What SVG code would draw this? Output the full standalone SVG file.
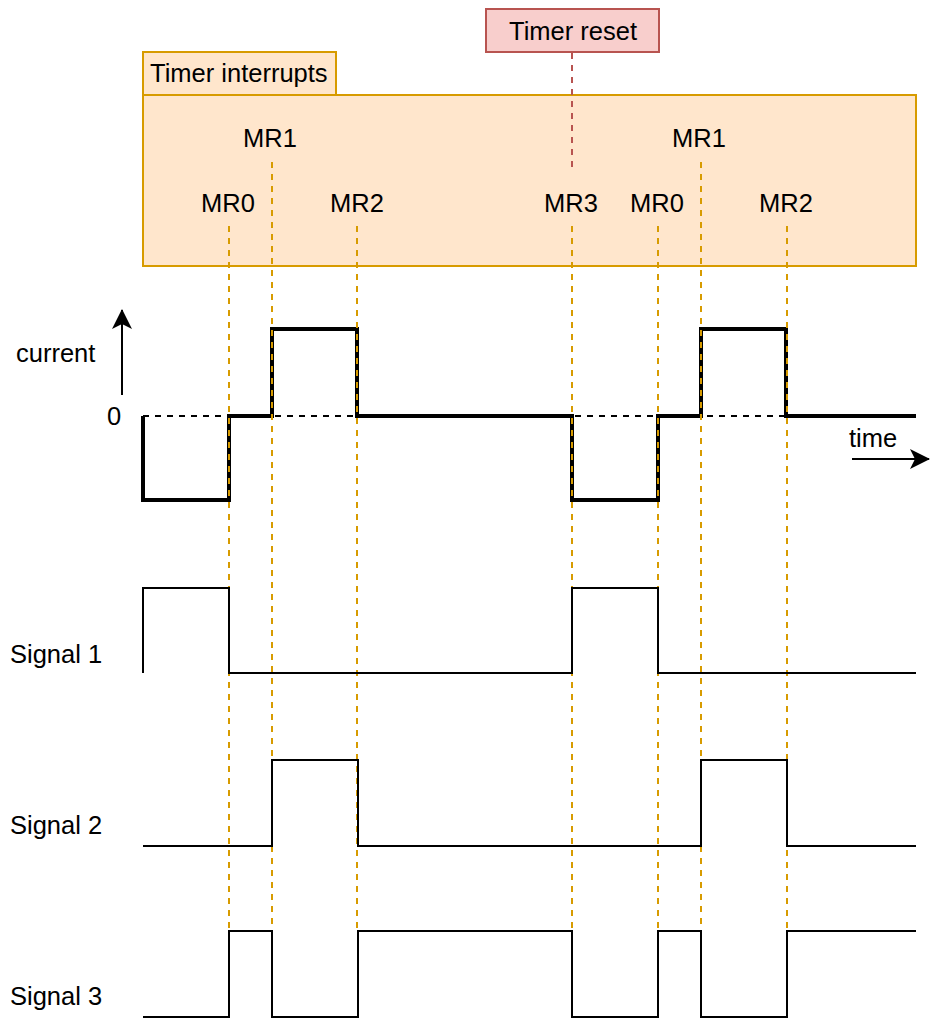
<svg xmlns="http://www.w3.org/2000/svg" width="930" height="1019" viewBox="0 0 930 1019">
<style>
text{font-family:"Liberation Sans",Arial,Helvetica,sans-serif;font-size:25.5px;fill:#000}
.c{text-anchor:middle}
.od{stroke:#d79b00;stroke-width:2;stroke-dasharray:6 6;fill:none}
.rd{stroke:#b85450;stroke-width:2;stroke-dasharray:6 6;fill:none}
.wave{fill:none;stroke:#000;stroke-width:4;stroke-linejoin:miter}
.sig{fill:none;stroke:#000;stroke-width:2;stroke-linejoin:miter}
.axis{stroke:#000;stroke-width:2;fill:none}
</style>
<defs>
<marker id="ah2" viewBox="0 0 20 20" refX="19" refY="10" markerWidth="20" markerHeight="20" markerUnits="userSpaceOnUse" orient="auto">
<path d="M0,0 L20,10 L0,20 L5,10 Z" fill="#000"/>
</marker>
</defs>
<rect width="930" height="1019" fill="#fff"/>

<g id="timer-interrupts">
<rect x="143" y="95" width="773" height="171" fill="#ffe6cc" stroke="#d79b00" stroke-width="2"/>
<rect x="143" y="52" width="193" height="43" fill="#ffe6cc" stroke="#d79b00" stroke-width="2"/>
<text x="150" y="82">Timer interrupts</text>
</g>

<g id="timer-reset">
<rect x="486" y="9" width="173" height="43" fill="#f8cecc" stroke="#b85450" stroke-width="2"/>
<text class="c" x="573" y="40">Timer reset</text>
</g>

<g id="mr-labels">
<text class="c" x="228" y="212">MR0</text>
<text class="c" x="270" y="147">MR1</text>
<text class="c" x="357" y="212">MR2</text>
<text class="c" x="571" y="212">MR3</text>
<text class="c" x="657" y="212">MR0</text>
<text class="c" x="699" y="147">MR1</text>
<text class="c" x="786" y="212">MR2</text>
</g>

<g id="axis-labels">
<text x="16" y="362">current</text>
<text x="107" y="425">0</text>
<text x="849" y="447">time</text>
</g>

<g id="zero-line">
<line x1="143" y1="416" x2="916" y2="416" stroke="#000" stroke-width="2" stroke-dasharray="6 6"/>
</g>

<g id="current-waveform">
<path class="wave" d="M143,416 V500 H229 V416 H272 V329 H357 V416 H572 V500 H658 V416 H701 V329 H786 V416 H916"/>
</g>

<g id="connectors">
<line class="rd" x1="572" y1="53" x2="572" y2="173"/>
<line class="od" x1="229" y1="226" x2="229" y2="931"/>
<line class="od" x1="272" y1="162" x2="272" y2="931"/>
<line class="od" x1="357" y1="226" x2="357" y2="931"/>
<line class="od" x1="572" y1="226" x2="572" y2="931"/>
<line class="od" x1="658" y1="226" x2="658" y2="931"/>
<line class="od" x1="701" y1="162" x2="701" y2="931"/>
<line class="od" x1="787" y1="226" x2="787" y2="931"/>
<line class="axis" x1="122" y1="395" x2="122" y2="310" marker-end="url(#ah2)"/>
<line class="axis" x1="852" y1="459" x2="929" y2="459" marker-end="url(#ah2)"/>
</g>

<g id="signal-1">
<text x="10" y="663">Signal 1</text>
<path class="sig" d="M143,673 V588 H229 V673 H572 V588 H658 V673 H916"/>
</g>

<g id="signal-2">
<text x="10" y="834">Signal 2</text>
<path class="sig" d="M143,846 H272 V760 H358 V846 H701 V760 H787 V846 H916"/>
</g>

<g id="signal-3">
<text x="10" y="1005">Signal 3</text>
<path class="sig" d="M143,1017 H229 V931 H272 V1017 H358 V931 H572 V1017 H658 V931 H701 V1017 H787 V931 H916"/>
</g>
</svg>
